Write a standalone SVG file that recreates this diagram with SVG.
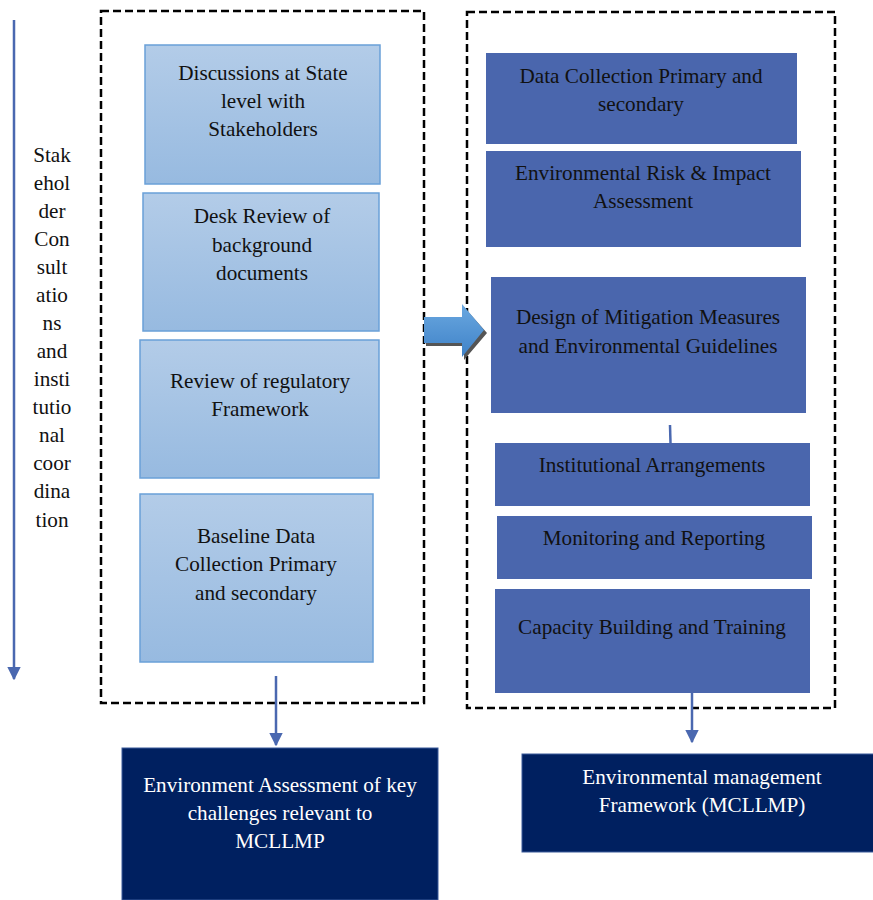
<svg xmlns="http://www.w3.org/2000/svg" width="873" height="900" viewBox="0 0 873 900" font-family="'Liberation Serif', 'Times New Roman', serif">
<defs>
<linearGradient id="lb" x1="0" y1="0" x2="0" y2="1">
<stop offset="0" stop-color="#b3cce8"/>
<stop offset="1" stop-color="#97bae0"/>
</linearGradient>
<linearGradient id="ba" x1="0" y1="0" x2="0" y2="1">
<stop offset="0" stop-color="#6aa8e0"/>
<stop offset="1" stop-color="#3f82c8"/>
</linearGradient>
<marker id="ah" viewBox="0 0 10 10" refX="9" refY="5" markerWidth="5.5" markerHeight="5.5" markerUnits="strokeWidth" orient="auto">
<path d="M0,0 L10,5 L0,10 z" fill="#4a68b0"/>
</marker>
<style>
text{font-family:'Liberation Serif','Times New Roman',serif;font-size:21.2px;text-anchor:middle;fill:#111}
.lt{fill:url(#lb);stroke:#6aa0d8;stroke-width:1.5}
.mb{fill:#4a66ad}
.db{fill:#002060;stroke:#3a5a9a;stroke-width:1}
.dt{fill:#ffffff}
.dash{fill:none;stroke:#000;stroke-width:2.5;stroke-dasharray:8,4}
.con{stroke:#4a68b0;stroke-width:2.5;fill:none}
</style>
</defs>
<rect width="873" height="900" fill="#fff"/>
<g id="containers">
<rect class="dash" x="101" y="11" width="323" height="692"/>
<rect class="dash" x="467" y="12" width="368" height="696"/>
</g>
<g id="side-label">
<text x="52" y="162">Stak</text>
<text x="52" y="190">ehol</text>
<text x="52" y="218">der</text>
<text x="52" y="246">Con</text>
<text x="52" y="274">sult</text>
<text x="52" y="302">atio</text>
<text x="52" y="330">ns</text>
<text x="52" y="358">and</text>
<text x="52" y="386">insti</text>
<text x="52" y="414">tutio</text>
<text x="52" y="442">nal</text>
<text x="52" y="470">coor</text>
<text x="52" y="498">dina</text>
<text x="52" y="527">tion</text>
</g>
<g id="n1"><rect class="lt" x="145" y="45" width="235" height="139"/>
<text x="263" y="80">Discussions at State</text><text x="263" y="108">level with</text><text x="263" y="136">Stakeholders</text></g>
<g id="n2"><rect class="lt" x="143" y="193" width="236" height="138"/>
<text x="262" y="223">Desk Review of</text><text x="262" y="252">background</text><text x="262" y="280">documents</text></g>
<g id="n3"><rect class="lt" x="140" y="340" width="239" height="138"/>
<text x="260" y="388">Review of regulatory</text><text x="260" y="416">Framework</text></g>
<g id="n4"><rect class="lt" x="140" y="494" width="233" height="168"/>
<text x="256" y="543">Baseline Data</text><text x="256" y="571">Collection Primary</text><text x="256" y="600">and secondary</text></g>
<g id="n5"><rect class="db" x="122" y="748" width="316" height="152"/>
<text class="dt" x="280" y="792">Environment Assessment of key</text><text class="dt" x="280" y="820">challenges relevant to</text><text class="dt" x="280" y="848">MCLLMP</text></g>
<g id="r1"><rect class="mb" x="486" y="53" width="311" height="91"/>
<text x="641" y="83">Data Collection Primary and</text><text x="641" y="111">secondary</text></g>
<g id="r2"><rect class="mb" x="486" y="151" width="315" height="96"/>
<text x="643" y="180">Environmental Risk &amp; Impact</text><text x="643" y="208">Assessment</text></g>
<g id="r3"><rect class="mb" x="491" y="277" width="315" height="136"/>
<text x="648" y="324">Design of Mitigation Measures</text><text x="648" y="353">and Environmental Guidelines</text></g>
<g id="r4"><rect class="mb" x="495" y="443" width="315" height="63"/>
<text x="652" y="472">Institutional Arrangements</text></g>
<g id="r5"><rect class="mb" x="497" y="516" width="315" height="63"/>
<text x="654" y="545">Monitoring and Reporting</text></g>
<g id="r6"><rect class="mb" x="495" y="589" width="315" height="104"/>
<text x="652" y="634">Capacity Building and Training</text></g>
<g id="r7"><rect class="db" x="522" y="754" width="352" height="98"/>
<text class="dt" x="702" y="784">Environmental management</text><text class="dt" x="702" y="812">Framework (MCLLMP)</text></g>
<g id="connectors">
<line class="con" x1="14" y1="20" x2="14" y2="679" marker-end="url(#ah)"/>
<line class="con" x1="276" y1="676" x2="276" y2="745" marker-end="url(#ah)"/>
<line class="con" x1="692" y1="693" x2="692" y2="742" marker-end="url(#ah)"/>
<line class="con" x1="670" y1="425" x2="670.5" y2="443"/>
<g id="block-arrow">
<path d="M426,320 L464,320 L464,307 L487,333 L464,360 L464,346 L426,346 z" fill="#555"/>
<path d="M424,317 L462,317 L462,304 L484,330 L462,357 L462,343 L424,343 z" fill="url(#ba)"/>
</g>
</g>
</svg>
